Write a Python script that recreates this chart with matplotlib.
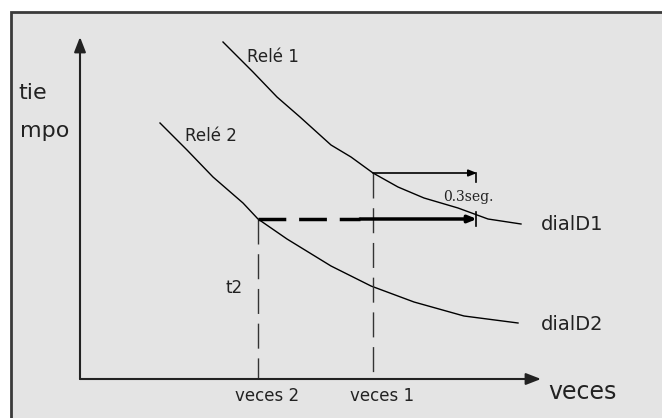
import matplotlib.pyplot as plt
from matplotlib.patches import Rectangle

# curve points of the two relays (drawing units: x to the right, y downwards)
rele1_x = [223, 253, 277, 300, 331, 351, 373, 398, 424, 458, 488, 521]
rele1_y = [42, 72, 97, 117, 145, 157, 173, 187, 198, 208, 219, 224]
rele2_x = [160, 187, 213, 243, 258, 287, 331, 371, 414, 464, 518]
rele2_y = [123, 150, 177, 203, 219, 239, 266, 286, 302, 316, 323]

origin = (80, 379)
veces_x = [258, 373]          # veces 2, veces 1
veces_labels = ['veces 2', 'veces 1']
t_ops = [219, 173]            # operating time of relay 2 / relay 1 at those points
arrow_end = 477

fig = plt.figure(figsize=(6.62, 4.18), dpi=100)
ax = fig.add_axes([0, 0, 1, 1])
ax.set_xlim(0, 662)
ax.set_ylim(418, 0)
ax.axis('off')

# gray panel; only the left and top border are inside the picture
ax.add_patch(Rectangle((11, 12), 700, 450, facecolor='#e4e4e4',
                       edgecolor='none'))
ax.plot([11, 11, 662], [418, 12, 12], color='#3a3a3a', lw=2,
        solid_joinstyle='miter')

# axes with arrows
ax.annotate('', xy=(origin[0], 37), xytext=origin,
            arrowprops=dict(arrowstyle='-|>,head_length=0.9,head_width=0.35',
                            color='#222222', lw=1.5, shrinkA=0, shrinkB=0))
ax.annotate('', xy=(541, origin[1]), xytext=origin,
            arrowprops=dict(arrowstyle='-|>,head_length=0.9,head_width=0.35',
                            color='#222222', lw=1.5, shrinkA=0, shrinkB=0))

# relay curves
ax.plot(rele1_x, rele1_y, color='black', lw=1.0)
ax.plot(rele2_x, rele2_y, color='black', lw=1.0)

# vertical dashed lines
for vx, ty in zip(veces_x, t_ops):
    ax.plot([vx, vx], [ty, origin[1]], color='#333333', lw=1.0,
            dashes=(18, 7))

# thin arrow from relay 1 (0.3 seg)
ax.annotate('', xy=(arrow_end, t_ops[1]), xytext=(veces_x[1], t_ops[1]),
            arrowprops=dict(arrowstyle='-|>,head_length=0.5,head_width=0.2',
                            color='black', lw=1.2, shrinkA=0, shrinkB=0))
ax.plot([arrow_end - 1, arrow_end - 1], [t_ops[1], t_ops[1] + 9], color='black', lw=1.2)

# thick dashed then solid line from relay 2
ax.plot([veces_x[0], 360], [t_ops[0], t_ops[0]], color='black', lw=2.5,
        dashes=(8, 3.7))
ax.annotate('', xy=(arrow_end, t_ops[0]), xytext=(360, t_ops[0]),
            arrowprops=dict(arrowstyle='-|>,head_length=0.5,head_width=0.2',
                            color='black', lw=2.5, shrinkA=0, shrinkB=0))
ax.plot([arrow_end - 1, arrow_end - 1], [t_ops[0] - 7, t_ops[0] + 7], color='black', lw=1.2)

# labels
ax.text(18, 93, 'tie', fontsize=16, va='center', ha='left', color='#222222')
ax.text(20, 131, 'mpo', fontsize=16, va='center', ha='left', color='#222222')
ax.text(247, 57, 'Relé 1', fontsize=12, va='center', ha='left', color='#222222')
ax.text(185, 136, 'Relé 2', fontsize=12, va='center', ha='left', color='#222222')
ax.text(226, 288, 't2', fontsize=12, va='center', ha='left', color='#222222')
for vx, lab in zip(veces_x, veces_labels):
    ax.text(vx + 9, 396, lab, fontsize=12, va='center', ha='center', color='#222222')
ax.text(548, 392, 'veces', fontsize=17, va='center', ha='left', color='#222222')
ax.text(541, 224, 'dialD1', fontsize=14, va='center', ha='left', color='#222222')
ax.text(541, 325, 'dialD2', fontsize=14, va='center', ha='left', color='#222222')
ax.text(443, 197, '0.3seg.', fontsize=10, va='center', ha='left', color='#222222',
        family='DejaVu Serif')

fig.savefig('out.png', dpi=100, facecolor='white')
